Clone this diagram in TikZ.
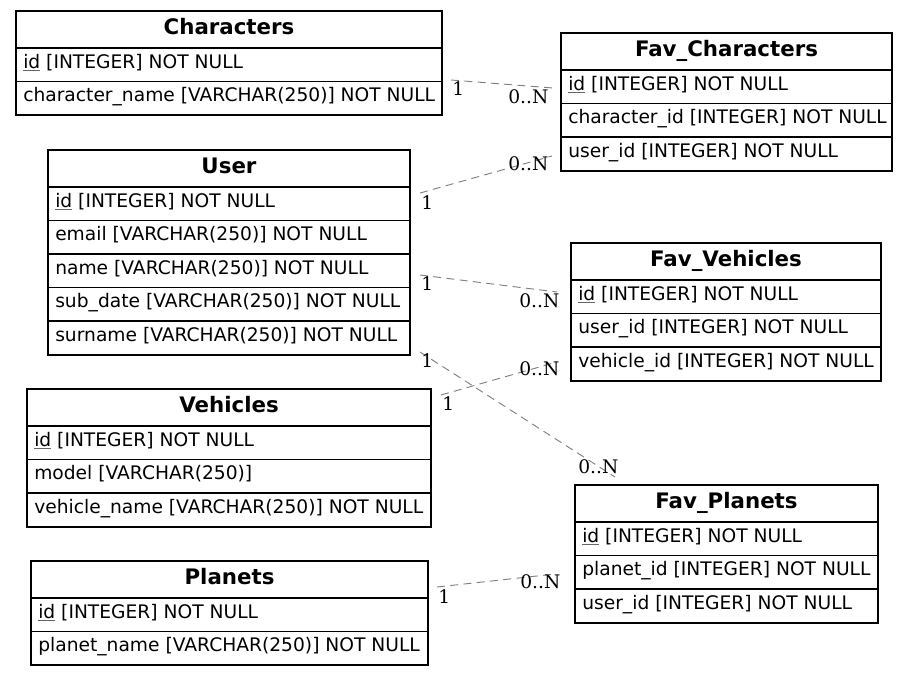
\documentclass[tikz,border=0pt]{standalone}
\usepackage{fontspec}
\setmainfont{DejaVu Sans}
\newfontfamily\lblfont{DejaVu Serif}
\usetikzlibrary{fit}
\tikzset{
  tblbox/.style={draw=black, line width=0.8pt, inner sep=0pt},
  tblline/.style={draw=black, line width=0.8pt},
  tbltitle/.style={inner sep=0pt, font=\fontsize{16pt}{18pt}\selectfont\bfseries},
  tblrow/.style={inner sep=0pt, font=\fontsize{14pt}{16pt}\selectfont},
  rel/.style={draw=black!50, line width=0.7pt, dash pattern=on 6pt off 4pt},
  card/.style={inner sep=0pt, anchor=base west, font=\lblfont\fontsize{14pt}{16pt}\selectfont},
}
\newcommand\pkey{{\setbox0\hbox{id}\rlap{\color{black!60}\rule[-2pt]{\wd0}{0.6pt}}\box0}}
\newcommand\ertable[7]{%
  \node[tblbox, fit={(#2,#3) (#4,#5)}] (#1) {};
  \node[tbltitle, anchor=base] at ({(#2+#4)/2},#3+23) {#6};
  \foreach \r [count=\i from 0] in {#7} {
    \draw[tblline] (#2,{#3+37+33.5*\i}) -- (#4,{#3+37+33.5*\i});
    \node[tblrow, anchor=base west] at (#2+7,{#3+57+33.5*\i}) {\r};
  }
}
\begin{document}
\begin{tikzpicture}[x=0.75pt, y=-0.75pt]
\useasboundingbox (0,0) rectangle (908,676);
\ertable{characters}{16}{11}{442}{115}{Characters}{{\pkey\ [INTEGER] NOT NULL},{character\_name [VARCHAR(250)] NOT NULL}}
\ertable{favchar}{561}{33}{892}{171}{Fav\_Characters}{{\pkey\ [INTEGER] NOT NULL},{character\_id [INTEGER] NOT NULL},{user\_id [INTEGER] NOT NULL}}
\ertable{user}{48}{150}{410}{355}{User}{{\pkey\ [INTEGER] NOT NULL},{email [VARCHAR(250)] NOT NULL},{name [VARCHAR(250)] NOT NULL},{sub\_date [VARCHAR(250)] NOT NULL},{surname [VARCHAR(250)] NOT NULL}}
\ertable{favveh}{571}{243}{881}{381}{Fav\_Vehicles}{{\pkey\ [INTEGER] NOT NULL},{user\_id [INTEGER] NOT NULL},{vehicle\_id [INTEGER] NOT NULL}}
\ertable{vehicles}{27}{389}{431}{527}{Vehicles}{{\pkey\ [INTEGER] NOT NULL},{model [VARCHAR(250)]},{vehicle\_name [VARCHAR(250)] NOT NULL}}
\ertable{favplan}{575}{485}{878}{623}{Fav\_Planets}{{\pkey\ [INTEGER] NOT NULL},{planet\_id [INTEGER] NOT NULL},{user\_id [INTEGER] NOT NULL}}
\ertable{planets}{31}{561}{428}{665}{Planets}{{\pkey\ [INTEGER] NOT NULL},{planet\_name [VARCHAR(250)] NOT NULL}}

% relation end points
\coordinate (r1a) at (451,80);  \coordinate (r1b) at (553,88);
\coordinate (r2a) at (420,193); \coordinate (r2b) at (552,156);
\coordinate (r3a) at (420,275); \coordinate (r3b) at (557,292);
\coordinate (r4a) at (420,352); \coordinate (r4b) at (615,477);
\coordinate (r5a) at (441,395); \coordinate (r5b) at (557,362);
\coordinate (r6a) at (437,587); \coordinate (r6b) at (555,574);
\draw[rel] (r1a) -- (r1b);
\draw[rel] (r2a) -- (r2b);
\draw[rel] (r3a) -- (r3b);
\draw[rel] (r4a) -- (r4b);
\draw[rel] (r5a) -- (r5b);
\draw[rel] (r6a) -- (r6b);

\node[card] (l1a) at (452,95) {1};  \node[card] (l1b) at (508,103) {0..N};
\node[card] (l2a) at (421,209) {1}; \node[card] (l2b) at (508,170) {0..N};
\node[card] (l3a) at (421,290) {1}; \node[card] (l3b) at (519,307) {0..N};
\node[card] (l4a) at (421,367) {1}; \node[card] (l4b) at (578,473) {0..N};
\node[card] (l5a) at (442,410) {1}; \node[card] (l5b) at (519,375) {0..N};
\node[card] (l6a) at (438,603) {1}; \node[card] (l6b) at (520,588) {0..N};
\end{tikzpicture}
\end{document}
